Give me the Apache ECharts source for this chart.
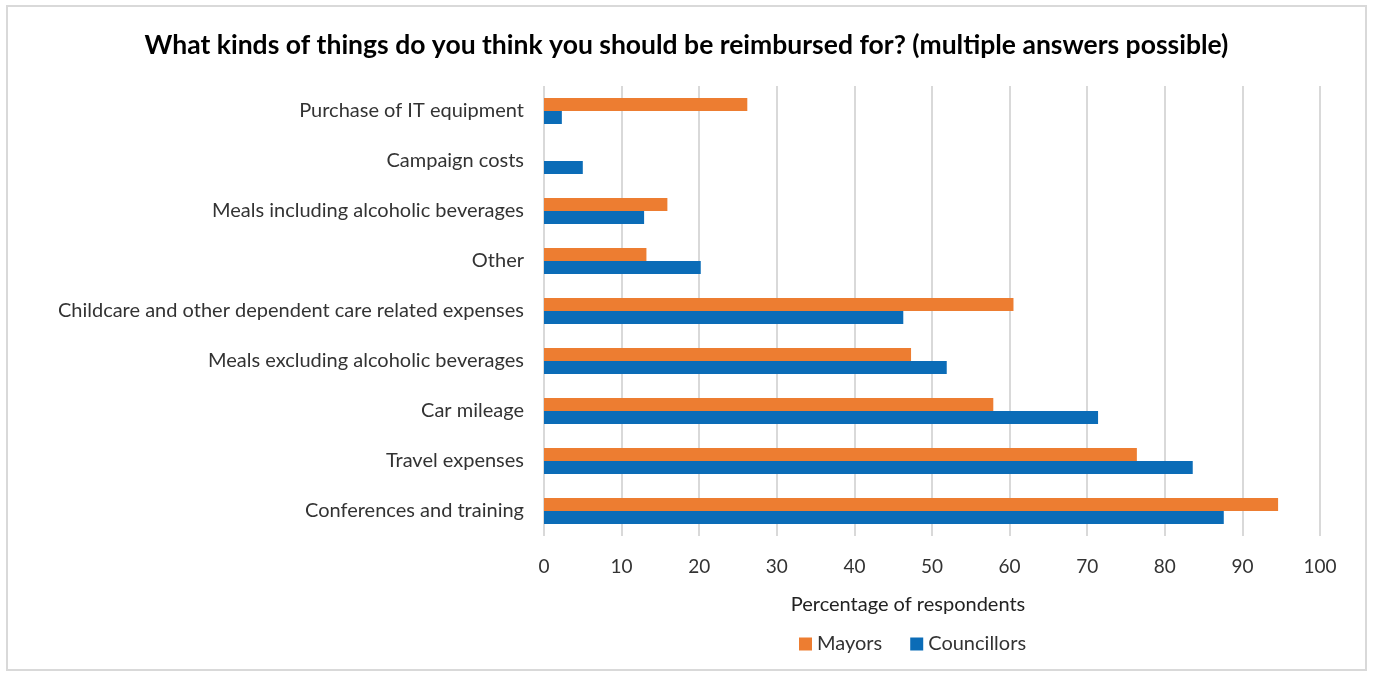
<!DOCTYPE html>
<html>
<head>
<meta charset="utf-8">
<script src="https://cdn.jsdelivr.net/npm/echarts@6/dist/echarts.min.js"></script>
<style>
  html, body { margin: 0; padding: 0; background: #fff; }
  #frame {
    position: absolute; left: 6px; top: 5px; width: 1361px; height: 666px;
    border: 2px solid #d9d9d9; box-sizing: border-box;
  }
  #chart { position: absolute; left: 0; top: 0; width: 1373px; height: 675px; }
</style>
</head>
<body>
<div id="frame"></div>
<div id="chart"></div>
<script>
// Categories listed bottom-to-top (category axis starts at the bottom)
const categories = [
  'Conferences and training',
  'Travel expenses',
  'Car mileage',
  'Meals excluding alcoholic beverages',
  'Childcare and other dependent care related expenses',
  'Other',
  'Meals including alcoholic beverages',
  'Campaign costs',
  'Purchase of IT equipment'
];
const mayors      = [94.6, 76.4, 57.9, 47.3, 60.5, 13.2, 15.9, 0, 26.2];
const councillors = [87.6, 83.6, 71.4, 51.9, 46.3, 20.2, 12.9, 5.0, 2.3];
const seriesNames = ['Mayors', 'Councillors'];

const FONT = 'Lato, "Open Sans", sans-serif';
const chart = echarts.init(document.getElementById('chart'));
chart.setOption({
  animation: false,
  title: {
    text: 'What kinds of things do you think you should be reimbursed for? (multiple answers possible)',
    left: 'center', top: 27,
    textStyle: { fontFamily: FONT, fontWeight: 'bold', fontSize: 26.5, color: '#000' }
  },
  legend: {
    data: seriesNames,
    left: 794, top: 629,
    itemWidth: 13, itemHeight: 13, itemGap: 28,
    icon: 'rect',
    textStyle: { fontFamily: FONT, fontSize: 20, color: '#333' }
  },
  grid: { left: 544, right: 53, top: 86, bottom: 139 },
  xAxis: {
    type: 'value', min: 0, max: 100, interval: 10,
    name: 'Percentage of respondents',
    nameLocation: 'middle', nameGap: 59,
    nameTextStyle: { fontFamily: FONT, fontSize: 20, color: '#222', padding: [0, 48, 0, 0] },
    axisLine: { show: false }, axisTick: { show: false },
    axisLabel: { fontFamily: FONT, fontSize: 19, color: '#333', margin: 21 },
    splitLine: { lineStyle: { color: '#d9d9d9', width: 2 } }
  },
  yAxis: {
    type: 'category', data: categories,
    axisLine: { show: false }, axisTick: { show: false },
    axisLabel: { fontFamily: FONT, fontSize: 20, color: '#333', margin: 20 }
  },
  series: [
    { name: 'Mayors', type: 'bar', data: mayors, barWidth: 13, barGap: '0%',
      itemStyle: { color: '#ed7d31' } },
    { name: 'Councillors', type: 'bar', data: councillors, barWidth: 13,
      itemStyle: { color: '#0b6cb7' } }
  ]
});
</script>
</body>
</html>
